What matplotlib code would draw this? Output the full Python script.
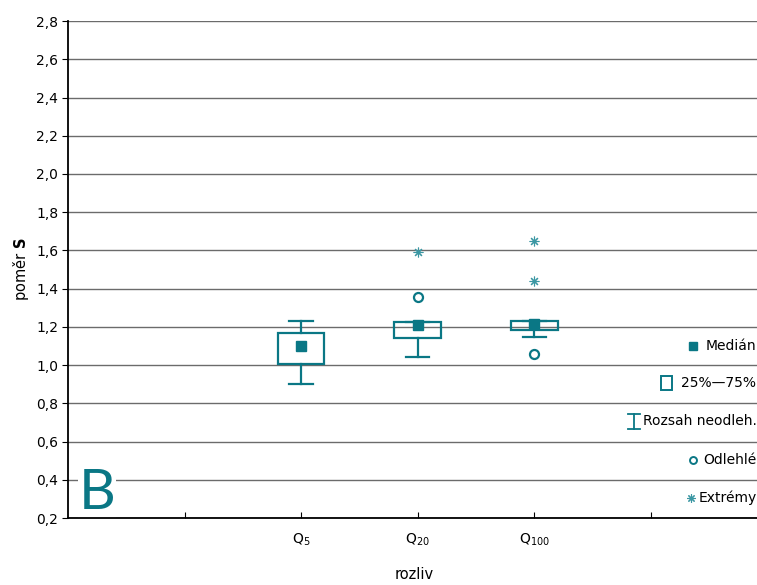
"""Krabicový graf poměru S podle rozlivu (panel B)."""

import matplotlib
matplotlib.use("Agg")
import matplotlib.pyplot as plt
from matplotlib.patches import Rectangle

TEAL = "#0a7785"
STAR_C = "#3b97a3"

# data
categories = ["Q$_{5}$", "Q$_{20}$", "Q$_{100}$"]
positions = [2, 3, 4]
medians = [1.10, 1.21, 1.215]
q25 = [1.005, 1.14, 1.183]
q75 = [1.168, 1.227, 1.229]
whisk_lo = [0.90, 1.045, 1.148]
whisk_hi = [1.23, 1.227, 1.229]
outliers = [[], [1.356], [1.058]]
extremes = [[], [1.59], [1.649, 1.44]]

legend_labels = ["Medián", "25%\u201475%", "Rozsah neodleh.", "Odlehlé", "Extrémy"]
legend_y = [1.10, 0.905, 0.705, 0.505, 0.305]

BOX_W = 0.4
CAP_W = 0.2
STAR = (8, 2, 0)


def main():
    plt.rcParams["font.family"] = ["DejaVu Sans"]
    fig = plt.figure(figsize=(7.57, 5.85), dpi=100)
    ax = fig.add_axes([0.0898, 0.1145, 0.9102, 0.8495])

    for i, x in enumerate(positions):
        ax.add_patch(Rectangle((x - BOX_W / 2, q25[i]), BOX_W, q75[i] - q25[i],
                               fill=False, ec=TEAL, lw=1.6, zorder=3))
        ax.plot([x, x], [whisk_lo[i], q25[i]], color=TEAL, lw=1.6, zorder=3)
        ax.plot([x, x], [q75[i], whisk_hi[i]], color=TEAL, lw=1.6, zorder=3)
        for w in (whisk_lo[i], whisk_hi[i]):
            ax.plot([x - CAP_W / 2, x + CAP_W / 2], [w, w], color=TEAL, lw=1.6, zorder=3)
        ax.plot(x, medians[i], "s", color=TEAL, ms=6.5, zorder=4)
        for o in outliers[i]:
            ax.plot(x, o, "o", mfc="white", mec=TEAL, mew=1.6, ms=6.5, zorder=4)
        for e in extremes[i]:
            ax.plot(x, e, marker=STAR, color=STAR_C, mec=STAR_C, mew=0.8, ms=7,
                    ls="none", zorder=4)

    ax.set_xlim(0, 5.91)
    ax.set_ylim(0.2, 2.8)
    ax.set_yticks([0.2 + 0.2 * k for k in range(14)])
    ax.set_yticklabels([f"{0.2 + 0.2 * k:.1f}".replace(".", ",") for k in range(14)])
    ax.set_xticks([1, 2, 3, 4, 5])
    ax.set_xticklabels([""] + categories + [""])
    ax.tick_params(axis="x", direction="in", length=4, labelsize=10, pad=10)
    ax.tick_params(axis="y", direction="out", length=4, labelsize=10, pad=3)
    ax.grid(axis="y", color="#6b6b6b", lw=1.0)
    ax.set_axisbelow(True)
    for s in ("top", "right"):
        ax.spines[s].set_visible(False)
    for s in ("left", "bottom"):
        ax.spines[s].set_linewidth(1.3)

    ax.set_ylabel("poměr $\\mathbf{S}$", fontsize=10.5, labelpad=4)
    fig.text(0.547, 0.018, "rozliv", ha="center", va="center", fontsize=10.5)

    ax.text(0.09, 0.245, "B", fontsize=41, color=TEAL, family="Lato", va="baseline",
            ha="left", zorder=2,
            bbox=dict(fc="white", ec="none", pad=0.5))

    # vlastní legenda vpravo
    for lab, y in zip(legend_labels, legend_y):
        ax.text(5.905, y, lab, ha="right", va="center", fontsize=10,
                clip_on=False, zorder=6,
                bbox=dict(fc="white", ec="none", pad=0.5))
    ax.plot(5.36, legend_y[0], "s", color=TEAL, ms=5.5, clip_on=False, zorder=6)
    ax.add_patch(Rectangle((5.085, legend_y[1] - 0.037), 0.1, 0.074, fill=False,
                           ec=TEAL, lw=1.4, clip_on=False, zorder=6))
    wx = 4.855
    ax.plot([wx, wx], [legend_y[2] - 0.04, legend_y[2] + 0.04], color=TEAL, lw=1.3,
            clip_on=False, zorder=6)
    for yy in (legend_y[2] - 0.04, legend_y[2] + 0.04):
        ax.plot([wx - 0.05, wx + 0.05], [yy, yy], color=TEAL, lw=1.3, clip_on=False,
                zorder=6)
    ax.plot(5.36, legend_y[3], "o", mfc="white", mec=TEAL, mew=1.4, ms=5,
            clip_on=False, zorder=6)
    ax.plot(5.34, legend_y[4], marker=STAR, color=STAR_C, mec=STAR_C, mew=0.8, ms=6,
            ls="none", clip_on=False, zorder=6)

    fig.savefig("out.png", dpi=100)


if __name__ == "__main__":
    main()
